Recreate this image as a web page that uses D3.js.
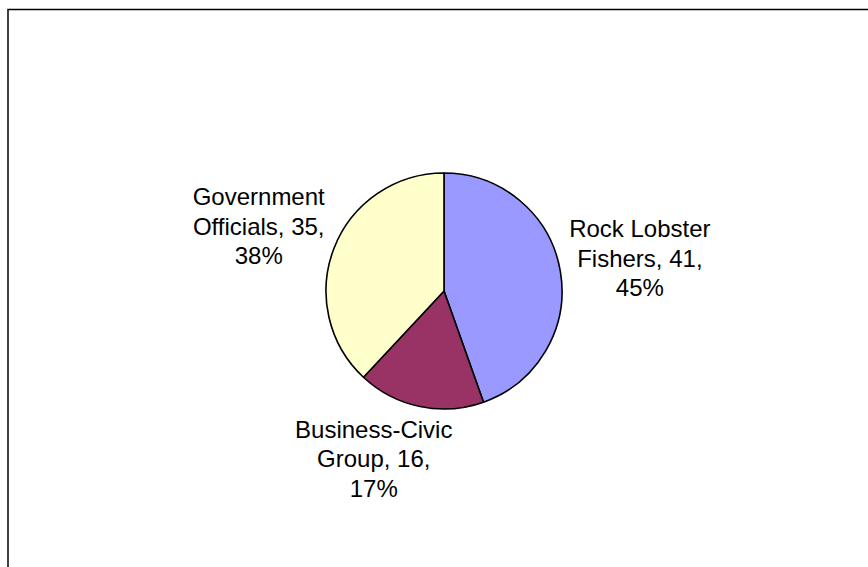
<!DOCTYPE html>
<html>
<head>
<meta charset="utf-8">
<script src="https://cdn.jsdelivr.net/npm/d3@7"></script>
<style>
  html, body { margin: 0; padding: 0; background: #fff; }
  svg { display: block; }
</style>
</head>
<body>
<svg id="chart" width="868" height="567"></svg>
<script>
// ---- data ----
const categories = ["Rock Lobster Fishers", "Business-Civic Group", "Government Officials"];
const values = [41, 16, 35];
const colors = ["#9999FF", "#993366", "#FFFFCC"];

// ---- layout ----
const W = 868, H = 567;
const cx = 444, cy = 291, radius = 118;
const fontSize = 24, lineH = 29.5, capH = 17, wrapWidth = 160, labelGap = 6;
// label placement tweaks (px) to mimic the original's best-fit placement
const labelNudge = [[4, -5], [-29, 9], [-8.5, -5.5]];

const svg = d3.select("#chart");

// chart frame (extends beyond the visible area at right and bottom)
svg.append("rect")
  .attr("x", 8).attr("y", 9.5)
  .attr("width", 1000).attr("height", 1000)
  .attr("fill", "none").attr("stroke", "#000").attr("stroke-width", 1.5);

const total = d3.sum(values);
const data = categories.map((c, i) => ({ name: c, value: values[i], color: colors[i], i }));

const pie = d3.pie().value(d => d.value).sort(null).startAngle(0).endAngle(2 * Math.PI);
const arcs = pie(data);
const arc = d3.arc().innerRadius(0).outerRadius(radius);

const g = svg.append("g").attr("transform", `translate(${cx},${cy})`);
g.selectAll("path.slice")
  .data(arcs)
  .join("path")
  .attr("class", "slice")
  .attr("d", arc)
  .attr("fill", d => d.data.color)
  .attr("stroke", "#000")
  .attr("stroke-width", 1.6)
  .attr("stroke-linejoin", "round");

// labels
const fmt = d => `${d.data.name}, ${d.data.value}, ${Math.round(d.data.value / total * 100)}%`;

arcs.forEach(d => {
  const words = fmt(d).split(" ");
  const t = svg.append("text")
    .attr("font-family", "'Liberation Sans', Arial, sans-serif")
    .attr("font-size", fontSize)
    .attr("fill", "#000")
    .attr("text-anchor", "middle");
  // word wrap
  const lines = [];
  let cur = "";
  const probe = t.append("tspan");
  words.forEach(w => {
    const test = cur ? cur + " " + w : w;
    probe.text(test);
    if (cur && probe.node().getComputedTextLength() > wrapWidth) {
      lines.push(cur);
      cur = w;
    } else {
      cur = test;
    }
  });
  if (cur) lines.push(cur);
  let maxW = 0;
  lines.forEach(l => { probe.text(l); maxW = Math.max(maxW, probe.node().getComputedTextLength()); });
  probe.remove();

  const a = (d.startAngle + d.endAngle) / 2;
  const sa = Math.sin(a), ca = Math.cos(a);
  const px = cx + (radius + labelGap) * sa;
  const py = cy - (radius + labelGap) * ca;
  const boxH = (lines.length - 1) * lineH + capH;
  const nudge = labelNudge[d.data.i];
  const bx = px + sa * maxW / 2 + nudge[0];
  const by = py - ca * boxH / 2 + nudge[1];
  const firstBaseline = by - boxH / 2 + capH;

  lines.forEach((l, k) => {
    t.append("tspan")
      .attr("x", bx)
      .attr("y", firstBaseline + k * lineH)
      .text(l);
  });
});
</script>
</body>
</html>
